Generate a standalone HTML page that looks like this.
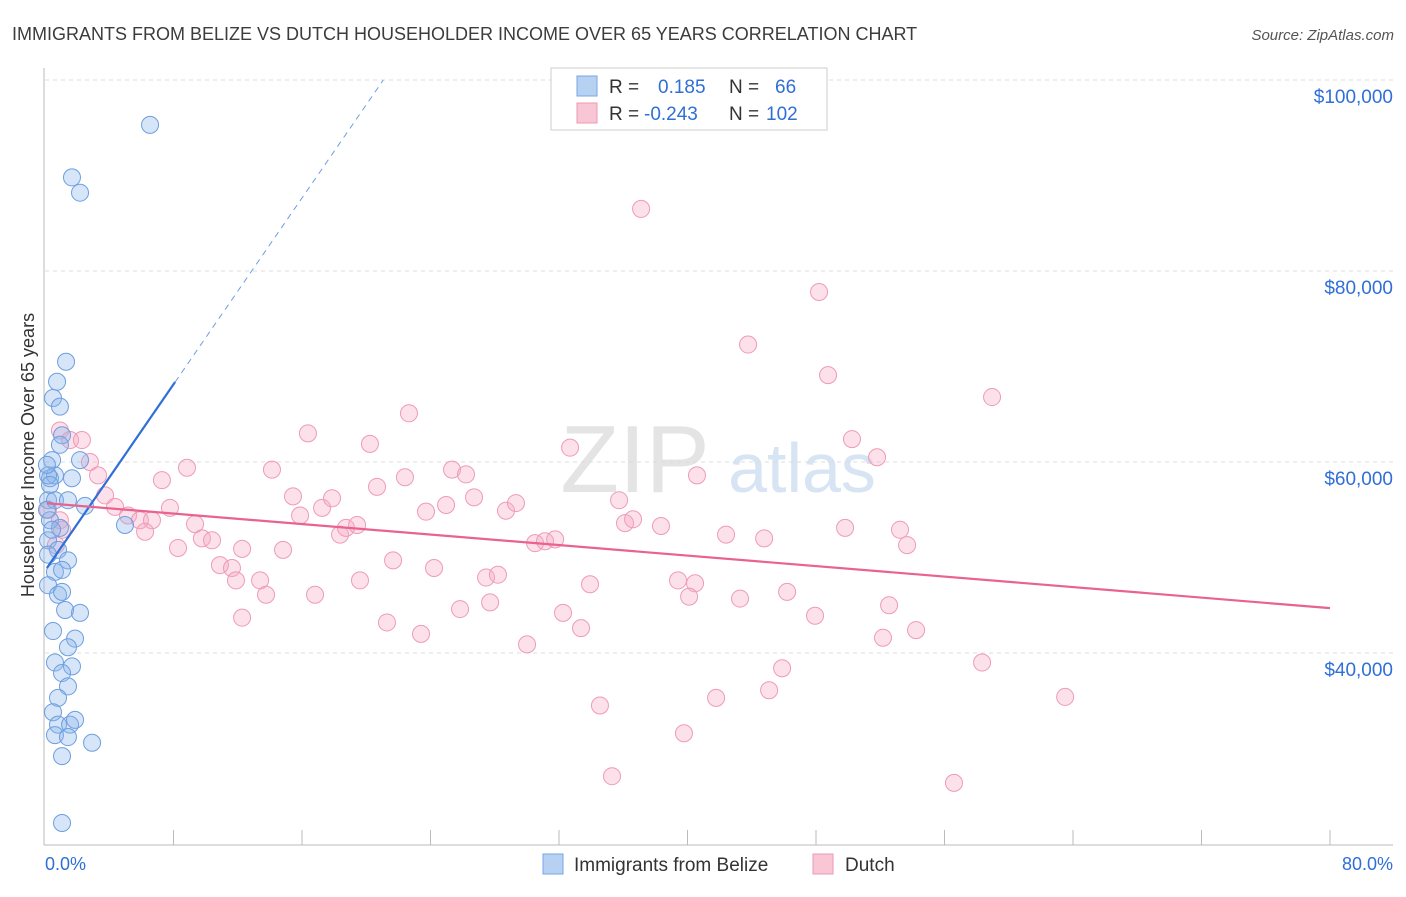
<!DOCTYPE html>
<html><head><meta charset="utf-8"><style>
body{margin:0;background:#fff;font-family:"Liberation Sans",sans-serif;}
svg text{font-family:"Liberation Sans",sans-serif;}
</style></head><body>
<svg id="chart" width="1406" height="892" xmlns="http://www.w3.org/2000/svg">
<text x="12" y="40" font-size="18" fill="#3c3c3c">IMMIGRANTS FROM BELIZE VS DUTCH HOUSEHOLDER INCOME OVER 65 YEARS CORRELATION CHART</text>
<text x="1394" y="40" font-size="15" fill="#555" text-anchor="end" font-style="italic">Source: ZipAtlas.com</text>
<text x="635" y="492" font-size="96" fill="#e4e4e4" font-family="Liberation Serif" text-anchor="middle">ZIP</text>
<text x="802" y="492" font-size="70" fill="#d6e4f4" text-anchor="middle">atlas</text>
<text transform="translate(34,455) rotate(-90)" font-size="18" fill="#333" text-anchor="middle">Householder Income Over 65 years</text>
<g id="grid"></g><g id="axes"></g><g id="pink"></g><g id="blue"></g><g id="lines"></g>
<g>
<rect x="551" y="68" width="276" height="62" fill="#fff" stroke="#ccc"/>
<rect x="577" y="76" width="20" height="20" fill="#b7d1f3" stroke="#7aa6e0"/>
<rect x="577" y="103" width="20" height="20" fill="#f9c6d6" stroke="#ee97b4"/>
<text x="609" y="93" font-size="19" fill="#333">R = <tspan fill="#2f6fd6" x="658">0.185</tspan><tspan x="729" fill="#333">N =</tspan><tspan x="775" fill="#2f6fd6">66</tspan></text>
<text x="609" y="120" font-size="19" fill="#333">R = <tspan fill="#2f6fd6" x="644">-0.243</tspan><tspan x="729" fill="#333">N =</tspan><tspan x="766" fill="#2f6fd6">102</tspan></text>
</g>
<g>
<rect x="543" y="854" width="20" height="20" fill="#b7d1f3" stroke="#7aa6e0"/>
<text x="574" y="871" font-size="19" fill="#333">Immigrants from Belize</text>
<rect x="813" y="854" width="20" height="20" fill="#f9c6d6" stroke="#ee97b4"/>
<text x="845" y="871" font-size="19" fill="#333">Dutch</text>
</g>
<text x="45" y="870" font-size="18" fill="#2f6fd6">0.0%</text>
<text x="1393" y="870" font-size="18" fill="#2f6fd6" text-anchor="end">80.0%</text>
</svg>
<script>
const yTicks=[40000,60000,80000,100000];
const yTickLabels=["$40,000","$60,000","$80,000","$100,000"];
const xTicks=[8,16,24,32,40,48,56,64,72,80];
const blueX=[6.54,1.68,2.18,1.31,0.75,0.50,0.93,1.06,0.44,0.31,0.62,1.68,0.19,0.62,1.43,2.49,4.98,0.31,0.93,0.19,0.81,1.43,0.62,1.06,0.19,0.81,1.06,1.25,2.18,0.50,1.87,1.43,1.68,0.62,1.06,1.43,0.81,0.50,0.81,1.56,1.87,0.62,1.43,2.93,1.06,1.06,0.19,0.31,0.12,0.44,0.19,0.12,2.18,0.93];
const blueY=[95.3,89.8,88.2,70.5,68.4,66.7,65.8,62.8,60.2,58.3,58.6,58.3,56.0,56.0,56.0,55.4,53.4,53.9,53.1,51.8,50.8,49.7,48.5,48.7,47.1,46.1,46.4,44.5,44.2,42.3,41.5,40.6,38.6,39.0,37.9,36.5,35.3,33.8,32.5,32.5,33.0,31.4,31.2,30.6,29.2,22.2,58.6,57.6,55.0,52.9,50.3,59.7,60.2,61.8];
const pinkX=[37.11,48.19,43.77,48.75,58.96,22.66,16.37,50.24,20.23,51.80,32.69,0.93,1.56,2.30,2.80,3.30,3.74,4.36,5.17,5.91,6.66,6.23,7.28,7.78,8.84,8.28,9.34,9.77,10.40,10.89,11.64,11.89,12.27,13.39,13.76,14.13,14.82,15.44,15.88,16.81,17.25,17.87,18.37,18.74,19.43,19.61,20.67,21.29,21.67,22.41,23.41,23.72,24.22,24.97,25.34,25.84,26.21,26.71,27.46,27.71,28.20,28.70,29.32,30.01,30.51,31.13,31.76,32.25,33.37,33.93,34.55,35.30,35.74,36.11,36.61,38.35,39.41,39.78,40.47,40.10,40.59,41.78,42.40,43.27,44.77,45.08,45.89,46.20,47.94,49.81,52.17,52.55,53.23,53.67,54.23,56.59,58.34,63.51,12.27,0.93,1.06,0.68,0.19];
const pinkY=[86.5,77.8,72.3,69.1,66.8,65.1,63.0,62.4,61.9,60.5,61.5,63.3,62.3,62.3,60.0,58.6,56.5,55.3,54.4,53.9,53.9,52.7,58.1,55.2,59.4,51.0,53.5,52.0,51.8,49.2,48.9,47.6,50.9,47.6,46.1,59.2,50.8,56.4,54.4,46.1,55.2,56.2,52.4,53.1,53.4,47.6,57.4,43.2,49.7,58.4,42.0,54.8,48.9,55.5,59.2,44.6,58.7,56.3,47.9,45.3,48.2,54.9,55.7,40.9,51.5,51.7,51.9,44.2,42.6,47.2,34.5,27.1,56.0,53.6,54.0,53.3,47.6,31.6,47.3,45.9,58.6,35.3,52.4,45.7,52.0,36.1,38.4,46.4,43.9,53.1,41.6,45.0,52.9,51.3,42.4,26.4,39.0,35.4,43.7,53.9,52.9,51.3,55.0];
const blueTrend=[0.12,48.9,2.44];   // xStart, yAtStart (k$), slope per %
const pinkTrend=[55.7,-0.1375];     // intercept (k$), slope per %
const NS="http://www.w3.org/2000/svg";
const X=v=>45+v*1285/80;
const Y=v=>653-(v-40)*191/20;
function mk(tag,attrs,parent){const e=document.createElementNS(NS,tag);for(const k in attrs)e.setAttribute(k,attrs[k]);document.getElementById(parent).appendChild(e);return e;}
yTicks.forEach((t,i)=>{
 const l=mk('line',{x1:45,x2:1393,y1:Y(t/1000),y2:Y(t/1000),stroke:'#ddd','stroke-dasharray':'4,4'},'grid');
 
 
 const tx=mk('text',{x:1393,y:Y(t/1000)+23,'font-size':19,fill:'#2f6fd6','text-anchor':'end'},'grid');
 tx.textContent=yTickLabels[i];
 
 
});
const ax=mk('line',{x1:44,x2:44,y1:68,y2:845,stroke:'#bbb'},'axes');


const bx=mk('line',{x1:44,x2:1393,y1:845,y2:845,stroke:'#bbb'},'axes');


xTicks.forEach(t=>{
 const l=mk('line',{x1:X(t),x2:X(t),y1:830,y2:845,stroke:'#bbb'},'axes');
 
 
});
pinkX.forEach((v,i)=>{
 const c=mk('circle',{cx:X(v),cy:Y(pinkY[i]),r:8.5,fill:'rgba(246,170,196,0.35)',stroke:'#ef9ab8','stroke-width':1},'pink');
 
 
});
blueX.forEach((v,i)=>{
 const c=mk('circle',{cx:X(v),cy:Y(blueY[i]),r:8.5,fill:'rgba(140,180,236,0.35)',stroke:'#6c9fe0','stroke-width':1},'blue');
 
 
});
const bEnd=8.1, bY=x=>blueTrend[1]+(x-blueTrend[0])*blueTrend[2];
const xTop=blueTrend[0]+(100-blueTrend[1])/blueTrend[2];
const b1=mk('line',{x1:X(blueTrend[0]),y1:Y(bY(blueTrend[0])),x2:X(bEnd),y2:Y(bY(bEnd)),stroke:'#2f6fd6','stroke-width':2.2},'lines');


const b2=mk('line',{x1:X(bEnd),y1:Y(bY(bEnd)),x2:X(xTop),y2:Y(100),stroke:'#6c9fe0','stroke-width':1,'stroke-dasharray':'6,5'},'lines');


const p1=mk('line',{x1:X(0.12),y1:Y(pinkTrend[0]+0.12*pinkTrend[1]),x2:X(80),y2:Y(pinkTrend[0]+80*pinkTrend[1]),stroke:'#e8638f','stroke-width':2.2},'lines');


</script>
</body></html>
